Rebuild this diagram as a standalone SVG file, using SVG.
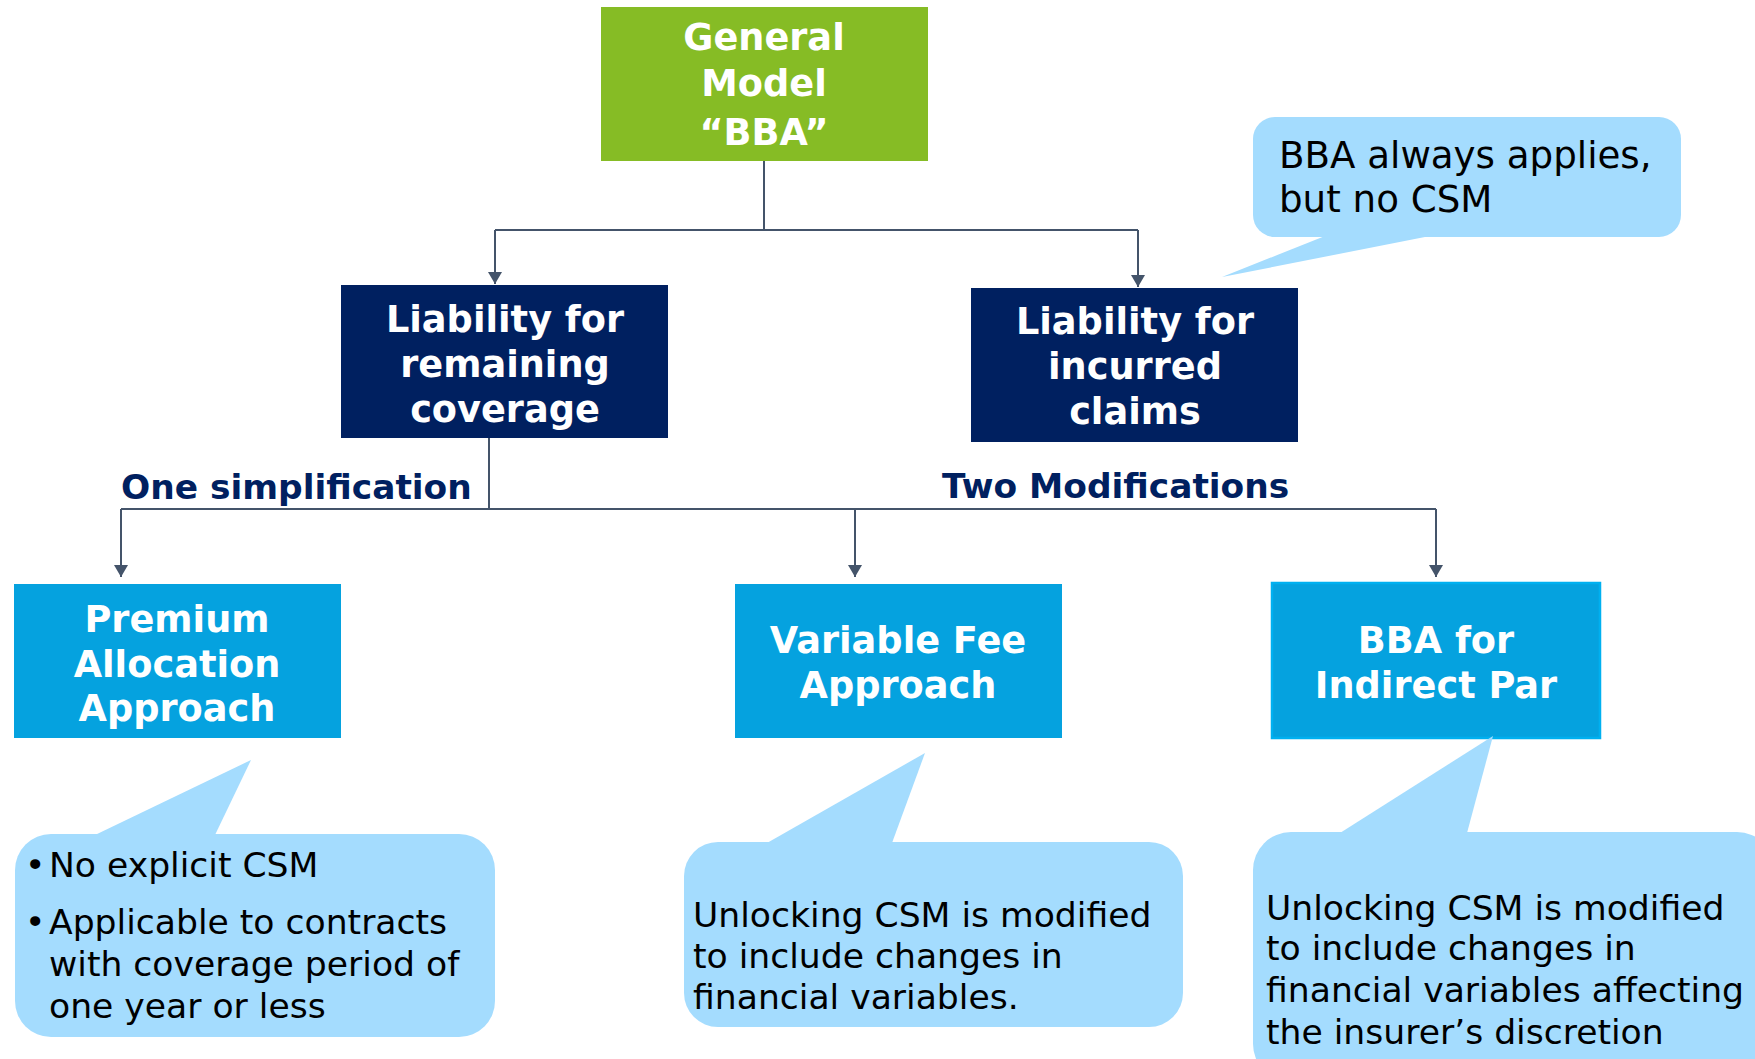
<svg xmlns="http://www.w3.org/2000/svg" width="1755" height="1059" viewBox="0 0 1755 1059">
<style>
.box{font-family:"DejaVu Sans","Verdana",sans-serif;font-weight:bold;font-size:36.7px;fill:#ffffff;text-anchor:middle}
.lbl{font-family:"DejaVu Sans","Verdana",sans-serif;font-weight:bold;font-size:34.4px;fill:#002060}
.note{font-family:"DejaVu Sans","Verdana",sans-serif;font-size:34.6px;fill:#000000}
.call{fill:#A4DCFE}
.conn{stroke:#44546A;stroke-width:2;fill:none}
</style>
<defs>
<marker id="arr" markerUnits="userSpaceOnUse" markerWidth="14" markerHeight="14" refX="12" refY="7" orient="auto">
<path d="M0,0 L12,7 L0,14 z" fill="#44546A"/>
</marker>
</defs>
<rect width="1755" height="1059" fill="#ffffff"/>

<g id="connectors">
<path class="conn" d="M764,161 V230"/>
<path class="conn" d="M495,230 H1138"/>
<path class="conn" d="M495,230 V284" marker-end="url(#arr)"/>
<path class="conn" d="M1138,230 V287" marker-end="url(#arr)"/>
<path class="conn" d="M489,438 V509"/>
<path class="conn" d="M121,509 H1436"/>
<path class="conn" d="M121,509 V577" marker-end="url(#arr)"/>
<path class="conn" d="M855,509 V577" marker-end="url(#arr)"/>
<path class="conn" d="M1436,509 V577" marker-end="url(#arr)"/>
</g>

<g id="label-one">
<text class="lbl" x="121" y="499">One simplification</text>
</g>
<g id="label-two">
<text class="lbl" x="942" y="498">Two Modifications</text>
</g>

<g id="general-model">
<rect x="601" y="7" width="327" height="154" fill="#86BC25"/>
<text class="box" x="764" y="50">General</text>
<text class="box" x="764" y="96">Model</text>
<text class="box" x="764" y="145">“BBA”</text>
</g>

<g id="lrc">
<rect x="341" y="285" width="327" height="153" fill="#002060"/>
<text class="box" x="505" y="332">Liability for</text>
<text class="box" x="505" y="377">remaining</text>
<text class="box" x="505" y="422">coverage</text>
</g>

<g id="lic">
<rect x="971" y="288" width="327" height="154" fill="#002060"/>
<text class="box" x="1135" y="334">Liability for</text>
<text class="box" x="1135" y="379">incurred</text>
<text class="box" x="1135" y="424">claims</text>
</g>

<g id="paa">
<rect x="14" y="584" width="327" height="154" fill="#05A2DF"/>
<text class="box" x="177" y="632">Premium</text>
<text class="box" x="177" y="677">Allocation</text>
<text class="box" x="177" y="721">Approach</text>
</g>

<g id="vfa">
<rect x="735" y="584" width="327" height="154" fill="#05A2DF"/>
<text class="box" x="898" y="653">Variable Fee</text>
<text class="box" x="898" y="698">Approach</text>
</g>

<g id="bba-indirect">
<rect x="1272" y="583" width="328" height="155" fill="#05A2DF" stroke="#00B0F0" stroke-width="2.5"/>
<text class="box" x="1436" y="653">BBA for</text>
<text class="box" x="1436" y="698">Indirect Par</text>
</g>

<g id="callout-lic">
<rect class="call" x="1253" y="117" width="428" height="120" rx="22"/>
<path class="call" d="M1325,236 L1222,277 L1430,236 z"/>
<text class="note" style="font-size:37.2px" x="1279" y="168">BBA always applies,</text>
<text class="note" style="font-size:37.2px" x="1279" y="212">but no CSM</text>
</g>

<g id="callout-paa">
<rect class="call" x="15" y="834" width="480" height="203" rx="36"/>
<path class="call" d="M95,835 L251,760 L215,835 z"/>
<text class="note" x="25" y="877">•</text>
<text class="note" x="49" y="877">No explicit CSM</text>
<text class="note" x="25" y="934">•</text>
<text class="note" x="49" y="934">Applicable to contracts</text>
<text class="note" x="49" y="976">with coverage period of</text>
<text class="note" x="49" y="1018">one year or less</text>
</g>

<g id="callout-vfa">
<rect class="call" x="684" y="842" width="499" height="185" rx="34"/>
<path class="call" d="M767,843 L925,753 L892,843 z"/>
<text class="note" x="693" y="927">Unlocking CSM is modified</text>
<text class="note" x="693" y="968">to include changes in</text>
<text class="note" x="693" y="1009">financial variables.</text>
</g>

<g id="callout-bba">
<rect class="call" x="1253" y="832" width="522" height="250" rx="38"/>
<path class="call" d="M1340,833 L1493,736 L1467,833 z"/>
<text class="note" x="1266" y="920">Unlocking CSM is modified</text>
<text class="note" x="1266" y="960">to include changes in</text>
<text class="note" x="1266" y="1002">financial variables affecting</text>
<text class="note" x="1266" y="1044">the insurer’s discretion</text>
</g>
</svg>
